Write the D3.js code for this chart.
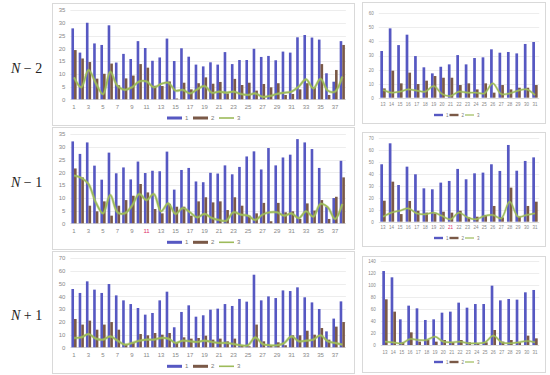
<!DOCTYPE html>
<html>
<head>
<meta charset="utf-8">
<script src="https://cdn.jsdelivr.net/npm/d3@7"></script>
<style>
  body { margin: 0; background: #fff; }
  svg { display: block; }
</style>
</head>
<body>
<div id="chart"></div>
<script>
// categories (days)
const leftDays = [1,2,3,4,5,6,7,8,9,10,11,12,13,14,15,16,17,18,19,20,21,22,23,24,25,26,27,28,29,30,31,32,33,34,35,36,37,38];
const rightDays = [13,14,15,16,17,18,19,20,21,22,23,24,25,26,27,28,29,30,31];
const seriesNames = ["1", "2", "3"];
const rowLabels = [["N", " \u2212 2"], ["N", " \u2212 1"], ["N", " + 1"]];

// N - 2, left
const nm2L1 = [27.8,18.3,30,21.9,21.3,29,14.4,17.8,15.8,22.8,20.1,15.1,16.4,23.8,15,20,16.7,13.6,12.9,14.5,13.6,18.5,13.8,15.4,15.4,19.8,16.6,17,15.3,18.7,18.3,24.3,25.2,24.2,23.4,10.2,6.9,22.8];
const nm2L2 = [19.3,16,14.6,8.1,10,14,5.5,8.2,9.3,13.8,12.4,5.3,5.2,7,0.3,6.5,3.9,6.3,8.6,6.1,6.8,2.3,8,5.6,6.5,3.4,6,4.7,6.3,1.7,2.1,3.9,6.3,4.7,13.8,1.7,11.5,21.3];
const nm2L3 = [8.6,4.7,11.5,6.3,2,10.8,5.2,3.7,4.7,7,7,4.7,6,6.5,3.4,3.7,2.3,3.9,5.2,2.6,3,2.6,3,2.1,1.7,2.3,1,1.3,2.1,2.6,3,5,7.8,4.3,8,3.4,3,8.9];
// N - 1, left
const nm1L1 = [32.1,27.2,31.7,22.6,17.1,27.7,19.6,21.9,17.2,24.2,19.7,20.6,20.4,28.1,13.2,20.9,21.7,16.4,16.1,19.8,19.5,22.7,19.2,22.1,26.2,28.2,21.1,29.5,22.7,25.8,26.9,33,31.7,29.1,21.7,6.5,9.9,24.5];
const nm1L2 = [21.5,18,6.9,4.7,8.6,3,6.9,9.1,10.8,15.4,12.1,5.6,3.9,7.6,6.5,6.5,3,8.6,10.2,8.2,8.6,5.2,10.2,6.9,3,3.9,8,0.8,8,4.3,4.7,1.7,7.8,5,9.1,1.7,10.4,18];
const nm1L3 = [18.7,17.8,15.4,8.2,3.9,11.1,4.3,3.9,6.9,11.5,9.1,11.5,4.7,7.8,3.7,6,4.3,2.3,3.7,2.1,1.3,1,4.3,3.4,3,1.3,3.4,4.3,4.3,3,3.9,2,4.7,2.6,7.6,6.3,1.7,7.6];
// N + 1, left
const np1L1 = [45.7,42.6,51.7,45.2,42.6,49.6,40.7,36.8,33.9,30.8,25.6,26.9,36.8,43.6,15.7,27.7,32.9,24,25.1,29.5,30.3,33.9,32.4,37.9,35.8,56.9,36.8,39.9,38.6,44.6,44.1,47,39.2,35.2,30,12.5,22.5,36];
const np1L2 = [22.2,17.8,20.9,13.8,17.8,19.8,13.8,2,3.4,10.4,9.4,11.2,9.9,11.2,3.4,7.8,6.8,7.3,9.1,6,6.8,4.7,6.8,1.6,0.8,17.8,4.7,1.6,3.9,1.6,9.4,9.4,13,9.9,15.1,6,16.2,19.8];
const np1L3 = [7.3,7.8,10.4,6.8,6,8.6,5.2,2.1,3.4,5.2,6,6,7.3,6.8,3.4,5.2,4.7,4.2,5.2,4.2,3.4,3.4,2.6,1.6,1.6,7.8,2.6,1.6,1.6,3.4,8.6,4.7,5.2,6,9.4,4.7,3.4,2.1];

// N - 2, right
const nm2R1 = [33.2,49.3,37.4,44.8,29.6,21.6,17.3,22,23.7,30.3,23.7,28.2,28.7,34.4,32,32.5,31.5,38.2,39.6];
const nm2R2 = [6.6,19.2,10.2,17.8,9.7,12.1,15.4,14.2,14.2,9,10.2,5.9,10.2,3.6,9,5.9,7.1,7.1,9];
const nm2R3 = [5.5,3.6,4.3,5.9,5,4.3,8.3,2.6,1.2,4.3,3.6,3.6,3.1,10.2,2.6,3.1,5,5.9,1.9];
// N - 1, right
const nm1R1 = [48.2,65.8,30.8,46.2,39.8,28,27.2,32.8,34.2,44.3,35.6,40.6,41.2,48.2,42.6,64.4,42.8,51,54];
const nm1R2 = [17.6,33.6,6.4,17.4,9.2,7.6,7,8.4,7.6,9.2,3.6,4.2,5.6,13.2,3.6,28.6,4.2,13.2,16.8];
const nm1R3 = [4.2,7.6,9.2,11.2,7,6.2,7.6,4.8,2,7.6,3.6,2,4.8,5.6,2.8,16.8,4.2,5.6,7];
// N + 1, right
const np1R1 = [123.3,112.8,42.8,65.6,61.1,41.7,42.8,53.9,55.6,70.6,62.2,68.3,68.3,98.9,74.4,76.7,75.6,87.8,91.7];
const np1R2 = [76.1,55.6,4.4,21.1,5.6,8.3,5.6,8.3,4.4,8.3,4.4,2.8,4.4,25,5.6,8.3,4.4,15.6,11.1];
const np1R3 = [5.6,4.4,2.8,10,8.3,8.3,13.9,5.6,4.4,5.6,2.8,2.8,4.4,15.6,4.4,2.8,4.4,6.7,4.4];

const colors = ["#5658c2", "#7a5947", "#9dbb5a"];

const svg = d3.select("#chart").append("svg")
    .attr("width", 550)
    .attr("height", 375);

function drawPanel(p) {
    let g = svg.append("g");

    // cadre
    g.append("rect")
        .attr("x", p.box[0] + 0.5).attr("y", p.box[1] + 0.5)
        .attr("width", p.box[2] - p.box[0]).attr("height", p.box[3] - p.box[1])
        .attr("fill", "#fff").attr("stroke", "#d9d9d9");

    let x = d3.scaleBand().domain(p.cats).range([p.x0, p.x1]);
    let y = d3.scaleLinear().domain([0, p.yMax]).range([p.yBottom, p.yTop]);
    let ticks = d3.range(0, p.yMax + 0.001, p.yStep);

    // grille
    g.selectAll(".grid").data(ticks).enter().append("line")
        .attr("x1", p.x0).attr("x2", p.x1)
        .attr("y1", d => Math.round(y(d)) + 0.5).attr("y2", d => Math.round(y(d)) + 0.5)
        .attr("stroke", d => d === 0 ? "#d0d0d0" : "#e8e8e8")
        .attr("stroke-width", 0.8);

    let yAxis = g.append("g")
        .attr("transform", "translate(" + (p.x0 - 3) + ",0)")
        .call(d3.axisLeft(y).tickValues(ticks).tickSize(0).tickPadding(2));
    yAxis.select(".domain").remove();
    yAxis.selectAll("text")
        .attr("font-family", "Liberation Sans, Arial, sans-serif")
        .attr("font-size", p.fs).attr("fill", "#888");

    let xAxis = g.append("g")
        .attr("transform", "translate(0," + p.xLabelY + ")")
        .call(d3.axisBottom(x).tickValues(p.cats.filter((c, i) => i % p.every === 0)).tickSize(0).tickPadding(0));
    xAxis.select(".domain").remove();
    xAxis.selectAll("text")
        .attr("font-family", "Liberation Sans, Arial, sans-serif")
        .attr("font-size", p.fs).attr("dy", "0.35em")
        .attr("fill", d => p.red && p.red.includes(d) ? "#e0306a" : "#888");

    let bw = x.bandwidth() * p.barRatio;
    let cx = d => x(d) + x.bandwidth() / 2;

    g.selectAll(".b1").data(p.cats).enter().append("rect")
        .attr("x", d => cx(d) - bw)
        .attr("width", bw)
        .attr("y", (d, i) => y(p.s1[i]))
        .attr("height", (d, i) => y(0) - y(p.s1[i]))
        .attr("fill", colors[0]);
    g.selectAll(".b2").data(p.cats).enter().append("rect")
        .attr("x", d => cx(d))
        .attr("width", bw)
        .attr("y", (d, i) => y(p.s2[i]))
        .attr("height", (d, i) => y(0) - y(p.s2[i]))
        .attr("fill", colors[1]);

    let line = d3.line()
        .x(d => cx(d[0]))
        .y(d => y(d[1]))
        .curve(d3.curveCatmullRom.alpha(0.5));
    let pts = p.cats.map((c, i) => [c, p.s3[i]]);
    g.append("path").datum(pts)
        .attr("d", line).attr("fill", "none")
        .attr("stroke", colors[2]).attr("stroke-opacity", 0.45)
        .attr("stroke-width", p.lw + 1.2);
    g.append("path").datum(pts)
        .attr("d", line).attr("fill", "none")
        .attr("stroke", colors[2]).attr("stroke-width", p.lw);

    // légende
    let lg = g.append("g").attr("transform", "translate(" + p.legX + "," + p.legY + ")");
    let sw = p.legSw, gap = p.legGap;
    seriesNames.forEach((n, i) => {
        let ox = i * (sw + gap);
        if (i < 2) {
            lg.append("rect").attr("x", ox).attr("y", -p.legH / 2)
                .attr("width", sw).attr("height", p.legH).attr("fill", colors[i]);
        } else {
            lg.append("line").attr("x1", ox).attr("x2", ox + sw)
                .attr("y1", 0).attr("y2", 0)
                .attr("stroke", colors[2]).attr("stroke-width", p.lw);
        }
        lg.append("text").attr("x", ox + sw + 3).attr("y", 0).attr("dy", "0.35em")
            .attr("font-family", "Liberation Sans, Arial, sans-serif")
            .attr("font-size", p.fs).attr("fill", "#777").text(n);
    });
}

let leftBase = {cats: leftDays, every: 2, fs: 6, barRatio: 0.36, lw: 1.6,
    x0: 70.4, x1: 345.9, legX: 167, legSw: 15, legGap: 11, legH: 3};
let rightBase = {cats: rightDays, every: 1, fs: 4.5, barRatio: 0.32, lw: 1.2,
    legX: 434, legSw: 9, legGap: 6.5, legH: 2.4};

let panels = [
    Object.assign({}, leftBase, {box: [52, 3, 354, 125], yTop: 10, yBottom: 99.3, yMax: 35, yStep: 5,
        s1: nm2L1, s2: nm2L2, s3: nm2L3, xLabelY: 107, legY: 118}),
    Object.assign({}, leftBase, {box: [52, 127, 354, 249], yTop: 134, yBottom: 223.3, yMax: 35, yStep: 5,
        s1: nm1L1, s2: nm1L2, s3: nm1L3, xLabelY: 231, legY: 242.3, red: [11]}),
    Object.assign({}, leftBase, {box: [52, 251, 354, 373], yTop: 258, yBottom: 347.3, yMax: 70, yStep: 10,
        s1: np1L1, s2: np1L2, s3: np1L3, xLabelY: 355.3, legY: 366.3}),
    Object.assign({}, rightBase, {box: [362, 2, 545, 123], x0: 378.8, x1: 539.2, yTop: 13.3, yBottom: 97.7, yMax: 60, yStep: 10,
        s1: nm2R1, s2: nm2R2, s3: nm2R3, xLabelY: 104, legY: 115}),
    Object.assign({}, rightBase, {box: [362, 132, 545, 246], x0: 378.8, x1: 539.2, yTop: 138.3, yBottom: 221.7, yMax: 70, yStep: 10,
        s1: nm1R1, s2: nm1R2, s3: nm1R3, xLabelY: 227.3, legY: 238, red: [21]}),
    Object.assign({}, rightBase, {box: [362, 256, 545, 372], x0: 380.8, x1: 539.2, yTop: 261, yBottom: 345, yMax: 140, yStep: 20,
        s1: np1R1, s2: np1R2, s3: np1R3, xLabelY: 352.3, legY: 362})
];
panels.forEach(drawPanel);

// étiquettes des lignes
let rowY = [68, 182, 315];
rowLabels.forEach((r, i) => {
    let t = svg.append("text")
        .attr("x", 11).attr("y", rowY[i]).attr("dy", "0.35em")
        .attr("font-family", "Liberation Serif, DejaVu Serif, serif")
        .attr("font-size", 14).attr("fill", "#222");
    t.append("tspan").attr("font-style", "italic").text(r[0]);
    t.append("tspan").text(r[1]);
});
</script>
</body>
</html>
